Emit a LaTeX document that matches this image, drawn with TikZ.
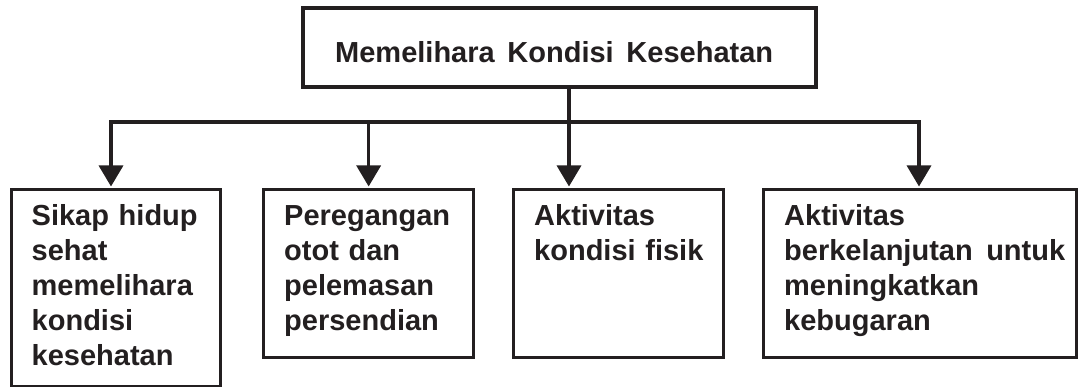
\documentclass[tikz,border=0pt]{standalone}
\usepackage{fontspec}
\setmainfont{Liberation Sans}
\usetikzlibrary{arrows.meta}
\definecolor{ink}{RGB}{35,31,32}
\begin{document}
\begin{tikzpicture}[x=1pt,y=-1pt,
  box/.style={draw=ink, line width=3.3pt, inner sep=0pt, anchor=north west},
  lbl/.style={inner sep=0pt, anchor=north west, align=left, text width=#1,
    font=\fontsize{29}{35}\selectfont\bfseries, text=ink},
  conn/.style={draw=ink, line width=3.3pt},
  arr/.style={conn, shorten >=1.5pt, -{Triangle[width=24pt,length=21pt]}}]
\useasboundingbox (0,0) rectangle (1078,387);
% top box
\node[box, line width=4pt, minimum width=513pt, minimum height=79pt] (top) at (301,6) {};
\node[inner sep=0pt, anchor=base west, font=\fontsize{29}{35}\selectfont\bfseries, text=ink] (toptext) at (335,63)
  {Memelihara\hspace{12.7pt}Kondisi\hspace{12.7pt}Kesehatan};
% child boxes
\node[box, minimum width=209.5pt, minimum height=197pt] (b1) at (9.5,188) {};
\node[box, minimum width=210pt, minimum height=168pt] (b2) at (262,188) {};
\node[box, minimum width=210pt, minimum height=168pt] (b3) at (512,188) {};
\node[box, minimum width=313pt, minimum height=168pt] (b4) at (762,188) {};
% texts
\node[lbl=190pt] (t1) at (31.5,200.5) {\strut Sikap hidup\\sehat\\memelihara\\kondisi\\kesehatan};
\node[lbl=190pt] (t2) at (284,200.5) {\strut Peregangan\\otot dan\\pelemasan\\persendian};
\node[lbl=190pt] (t3) at (534,200.5) {\strut Aktivitas\\kondisi fisik};
\node[lbl=300pt] (t4) at (784,200.5) {\strut Aktivitas\\berkelanjutan\hspace{13.5pt}untuk\\meningkatkan\\kebugaran};
% connectors
\coordinate (j) at (569,122);
\coordinate (h1) at (111,122);
\coordinate (h4) at (919,122);
\draw[conn, line cap=rect] (h1) -- (h4);
\draw[arr] (h1) -- (h1 |- b1.north);
\draw[arr] (b2.north |- j) -- (b2.north);
\draw[arr] (top.south -| j) -- (j |- b3.north);
\draw[arr] (h4) -- (h4 |- b4.north);
\end{tikzpicture}
\end{document}
